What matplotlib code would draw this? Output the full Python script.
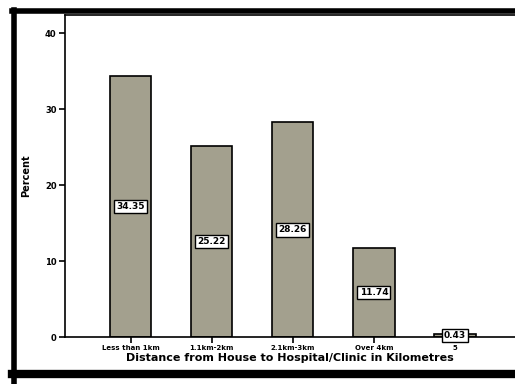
import numpy as np
import matplotlib
matplotlib.use("Agg")
import matplotlib.pyplot as plt
from matplotlib.lines import Line2D

categories = ["Less than 1km", "1.1km-2km", "2.1km-3km", "Over 4km", "5"]
percent = [34.35, 25.22, 28.26, 11.74, 0.43]
value_labels = ["34.35", "25.22", "28.26", "11.74", "0.43"]
y_ticks = [0, 10, 20, 30, 40]


def main():
    fig = plt.figure(figsize=(5.15, 3.84), dpi=100)
    ax = fig.add_axes([0.126, 0.122, 0.874, 0.839])

    x = np.arange(len(categories))
    ax.bar(x, percent, width=0.51, color="#a3a08e", edgecolor="black", linewidth=1.2)

    for xi, val, lab in zip(x, percent, value_labels):
        ax.text(xi, val / 2, lab, ha="center", va="center", fontsize=6.5, fontweight="bold",
                bbox=dict(boxstyle="square,pad=0.25", fc="white", ec="black", lw=1.0))

    ax.set_xlim(-0.81, 4.74)
    ax.set_ylim(0, 42.4)
    ax.set_xticks(x)
    ax.set_xticklabels(categories, fontsize=5, fontweight="bold")
    ax.set_yticks(y_ticks)
    ax.set_yticklabels([str(t) for t in y_ticks], fontsize=6, fontweight="bold")
    ax.tick_params(axis="both", direction="out", length=4, width=1.2, pad=2)

    for side in ["left", "bottom", "top"]:
        ax.spines[side].set_linewidth(1.2)
    ax.spines["right"].set_visible(False)

    ax.set_ylabel("Percent", fontsize=7, fontweight="bold", labelpad=10)
    ax.set_xlabel("Distance from House to Hospital/Clinic in Kilometres",
                  fontsize=8, fontweight="bold", labelpad=1)

    # thick outer frame of the printed chart
    fig.add_artist(Line2D([0.027, 0.027], [0.0, 0.975], color="black", lw=4,
                          transform=fig.transFigure))
    fig.add_artist(Line2D([0.023, 1.0], [0.972, 0.972], color="black", lw=4,
                          transform=fig.transFigure))
    fig.add_artist(Line2D([0.023, 1.0], [0.025, 0.025], color="black", lw=6,
                          transform=fig.transFigure))

    fig.savefig("out.png", dpi=100)


if __name__ == "__main__":
    main()
